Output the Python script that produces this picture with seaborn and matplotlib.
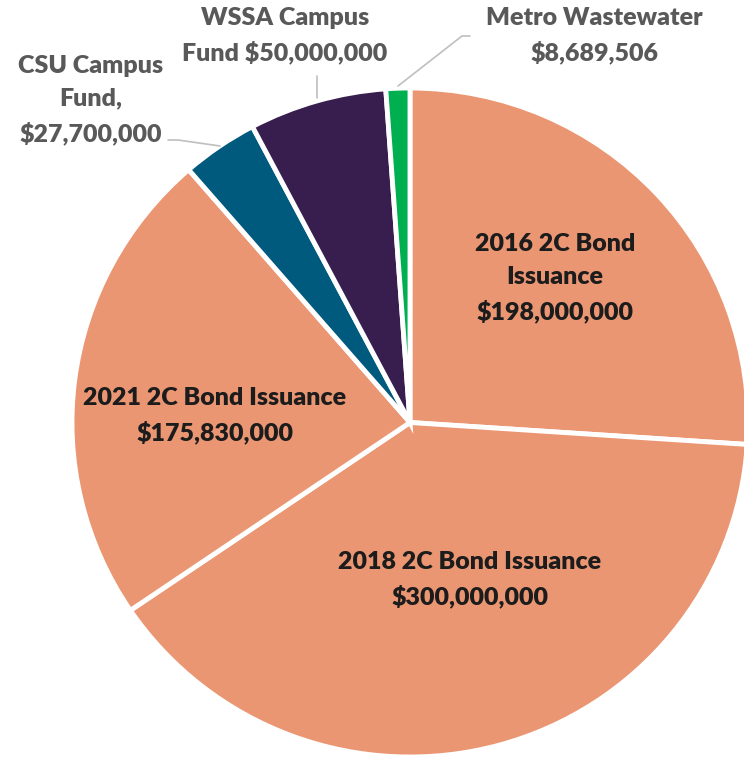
import matplotlib
matplotlib.use("Agg")
import matplotlib.pyplot as plt
import seaborn as sns

# funding sources (clockwise from top)
sources = ["2016 2C Bond Issuance", "2018 2C Bond Issuance", "2021 2C Bond Issuance",
           "CSU Campus Fund", "WSSA Campus Fund", "Metro Wastewater"]
amounts = [198000000, 300000000, 175830000, 27700000, 50000000, 8689506]
slice_colors = ["#EB9672", "#EB9672", "#EB9672", "#005A7D", "#381E4E", "#00B050"]

labels = ["2016 2C Bond\nIssuance\n$198,000,000",
          "2018 2C Bond Issuance\n$300,000,000",
          "2021 2C Bond Issuance\n$175,830,000",
          "CSU Campus\nFund,\n$27,700,000",
          "WSSA Campus\nFund $50,000,000",
          "Metro Wastewater\n$8,689,506"]

sns.set_theme(style="white")
plt.rcParams["font.family"] = ["Lato", "DejaVu Sans"]

W, H = 744, 759
fig = plt.figure(figsize=(W / 100, H / 100), dpi=100)
ax = fig.add_axes([0, 0, 1, 1])

# pie is slightly wider than tall in the original (stretched chart)
cx, cy, rx, ry = 410, 422.5, 338, 334.5
ax.pie(amounts, colors=slice_colors, startangle=90, counterclock=False,
       center=(0, 0), radius=1, frame=True,
       wedgeprops=dict(edgecolor="white", linewidth=3.5))
ax.set_xlim(-cx / rx, (W - cx) / rx)
ax.set_ylim(-(H - cy) / ry, cy / ry)
ax.set_aspect("auto")
ax.axis("off")

inner = "#1c1c1c"
outer = "#595959"
fs = 18
ls = 1.6
wt = "heavy"


def put(x, y, s, color):
    fig.text(x / W, 1 - y / H, s, ha="center", va="center", fontsize=fs,
             fontweight=wt, color=color, linespacing=ls)


def leader(xs, ys):
    fig.add_artist(plt.Line2D([x / W for x in xs], [1 - y / H for y in ys],
                              color="#bfbfbf", lw=1.2))


# labels inside the big slices
put(555, 278, labels[0], inner)
put(470, 580, labels[1], inner)
put(215, 416, labels[2], inner)

# outside labels with leader lines
put(91, 100, labels[3], outer)
leader([168, 178, 220], [140, 140, 146])

put(285, 36, labels[4], outer)
leader([317, 317], [76, 98])

put(594, 36, labels[5], outer)
leader([398, 462, 470], [86, 36, 36])

fig.savefig("out.png", dpi=100)
